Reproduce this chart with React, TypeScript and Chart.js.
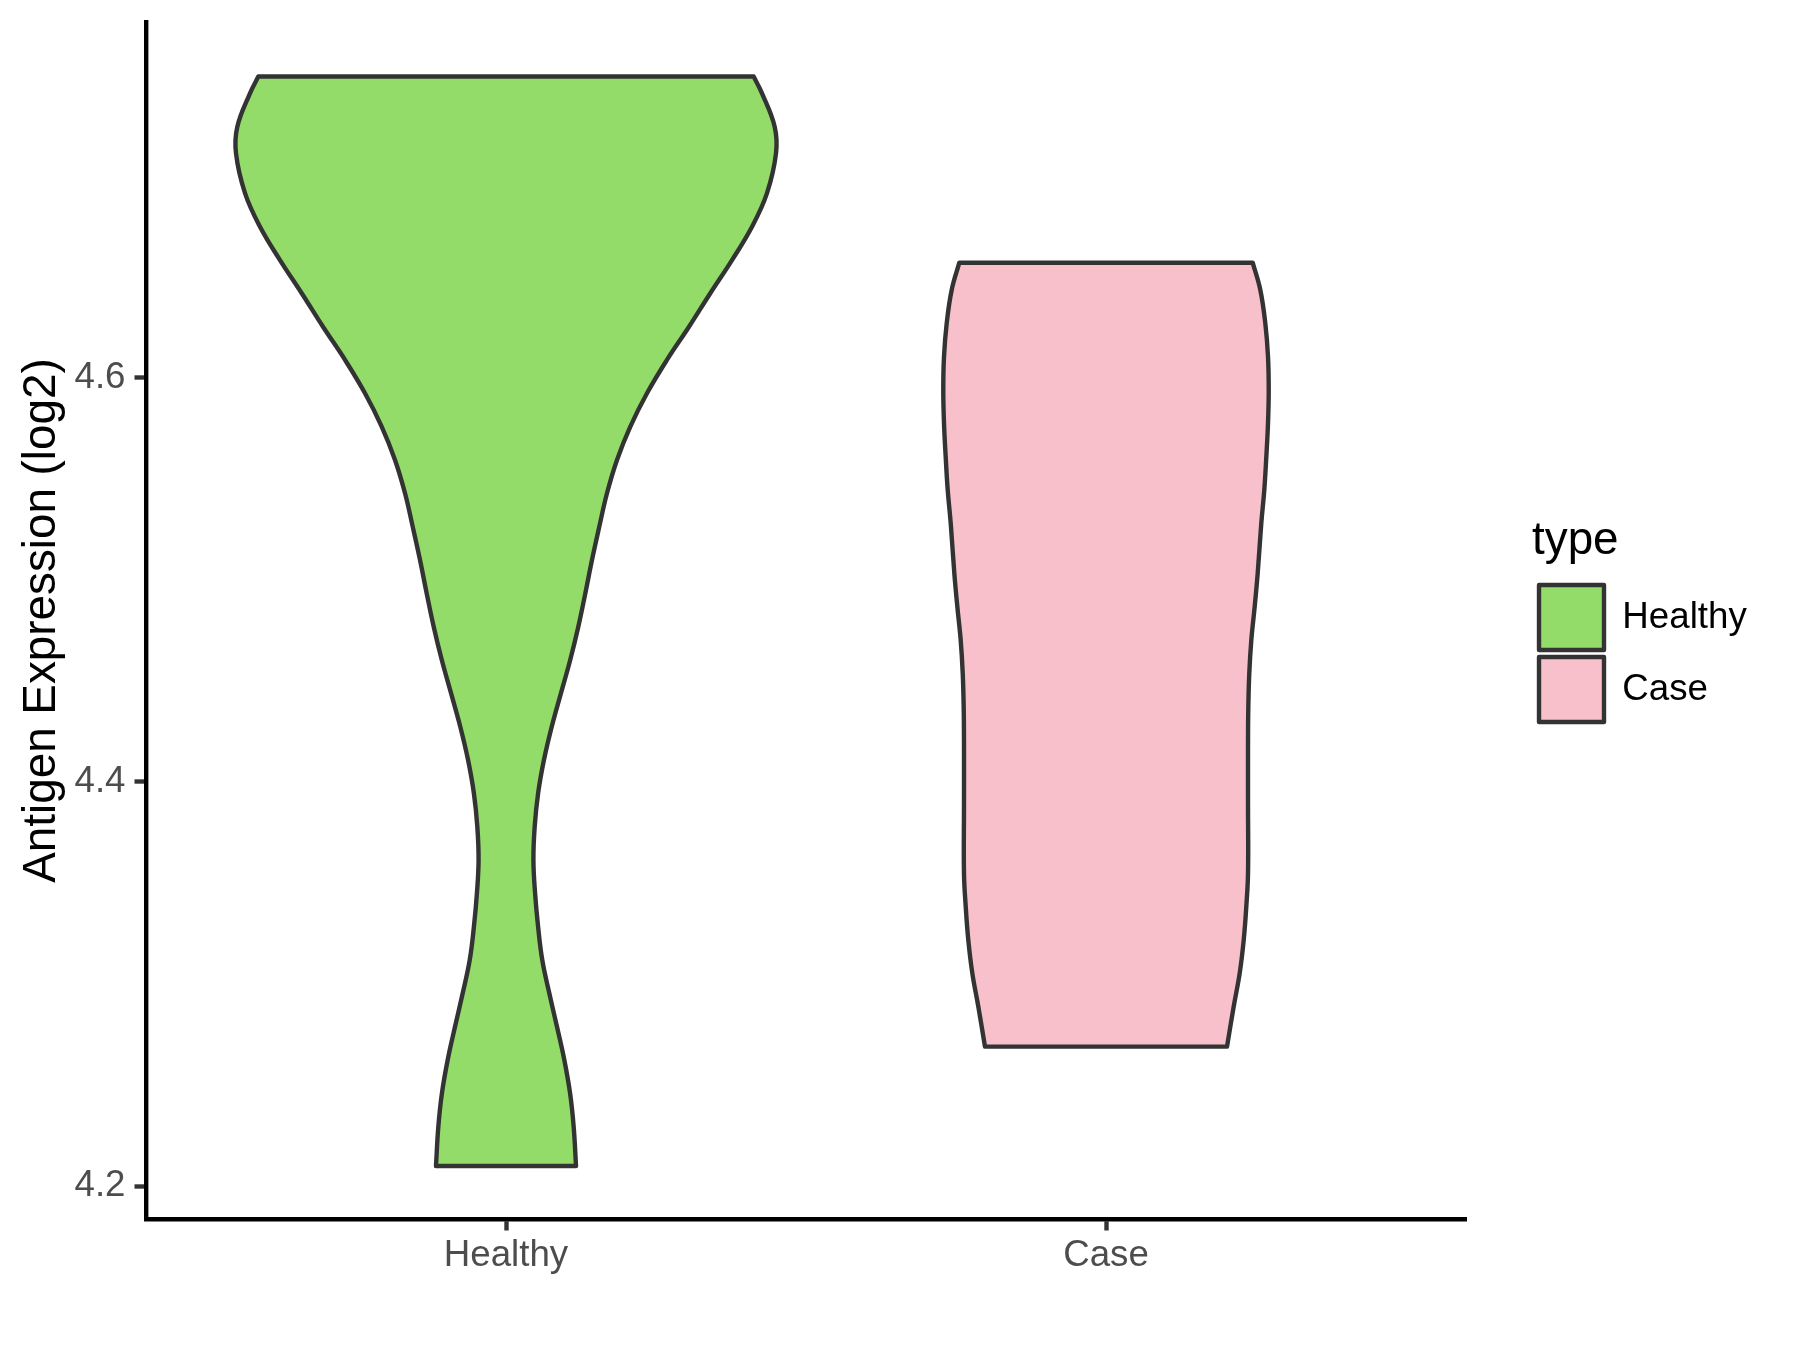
import React, { useEffect, useRef } from 'react';
import { Chart, registerables } from 'chart.js';

Chart.register(...registerables);

// Categories and their fill colours
const categories = ['Healthy', 'Case'];
const fillColors = ['#94DC6A', '#F7C0CB'];

// Violin outlines: expression value (log2) and
// half-width of the density (in category units), from top to bottom.
const healthyValues = [
  4.749, 4.7407, 4.7242, 4.711, 4.6913, 4.6747, 4.6582, 4.6418, 4.6252, 4.6088,
  4.5923, 4.5758, 4.5593, 4.5428, 4.5263, 4.5098, 4.4933, 4.4768, 4.4603, 4.4438,
  4.4273, 4.4108, 4.3943, 4.3778, 4.3613, 4.3448, 4.3283, 4.3118, 4.2954, 4.2788,
  4.2624, 4.2459, 4.2293, 4.2099,
];
const healthyHalfWidths = [
  0.4128, 0.4267, 0.4478, 0.45, 0.435, 0.41, 0.3767, 0.3405, 0.305, 0.2683,
  0.235, 0.2072, 0.185, 0.1683, 0.1555, 0.1433, 0.1322, 0.1205, 0.107, 0.0915,
  0.0762, 0.0632, 0.0535, 0.0478, 0.0457, 0.0485, 0.0535, 0.0605, 0.0722, 0.085,
  0.0972, 0.1068, 0.1128, 0.1167,
];
const caseValues = [
  4.6569, 4.6434, 4.6269, 4.6104, 4.5939, 4.5774, 4.5609, 4.5444, 4.5279, 4.5032,
  4.4867, 4.4702, 4.4537, 4.4372, 4.4207, 4.3877, 4.3547, 4.3382, 4.3217, 4.3053,
  4.2888, 4.269,
];
const caseHalfWidths = [
  0.2445, 0.2572, 0.2655, 0.27, 0.2712, 0.27, 0.2672, 0.2638, 0.2588, 0.2528,
  0.2478, 0.2422, 0.2388, 0.2372, 0.2367, 0.2367, 0.2367, 0.2338, 0.2295, 0.2228,
  0.2128, 0.2017,
];

// Axis ticks
const yTickValues = [4.2, 4.4, 4.6];
const yTickLabels = ['4.2', '4.4', '4.6'];
const yAxisTitle = 'Antigen Expression (log2)';
const legendTitle = 'type';

const valuesList = [healthyValues, caseValues];
const widthsList = [healthyHalfWidths, caseHalfWidths];

function violinPath(pos: number, values: number[], widths: number[]) {
  const n = values.length;
  const left = values.map((v, i) => ({ x: pos - widths[i], y: v }));
  const right = values.map((v, i) => ({ x: pos + widths[i], y: v })).reverse();
  const topCenter = { x: pos, y: values[0] };
  return [
    topCenter,
    left[0],
    ...left,
    left[n - 1],
    right[0],
    ...right,
    right[n - 1],
    topCenter,
  ];
}

export default function App() {
  const ref = useRef<HTMLCanvasElement>(null);

  useEffect(() => {
    if (!ref.current) return;
    Chart.defaults.font.family = "'Liberation Sans', Arial, sans-serif";

    const datasets = categories.map((name, i) => ({
      label: name,
      data: violinPath(i + 1, valuesList[i], widthsList[i]),
      backgroundColor: fillColors[i],
      borderColor: '#333333',
      borderWidth: 4.4,
      borderJoinStyle: 'round',
      fill: 'shape',
      tension: 0.4,
      pointRadius: 0,
      pointHoverRadius: 0,
    }));

    const tickFont = { size: 36.7 };

    const chart = new Chart(ref.current, {
      type: 'line',
      data: { datasets } as any,
      options: {
        animation: false,
        responsive: false,
        events: [],
        layout: { padding: { top: 22, right: 43.25, bottom: 0, left: 0 } },
        plugins: {
          legend: {
            position: 'right',
            align: 'center',
            fullSize: false,
            labels: {
              boxWidth: 65,
              boxHeight: 65,
              padding: 7,
              color: '#000000',
              font: tickFont,
            },
            title: {
              display: true,
              text: legendTitle,
              color: '#000000',
              font: { size: 45.8 },
              padding: { top: 6.6, bottom: 4.4 },
              position: 'start',
            } as any,
          },
          tooltip: { enabled: false },
        },
        scales: {
          x: {
            type: 'linear',
            min: 0.4,
            max: 2.6,
            afterBuildTicks: (s: any) => {
              s.ticks = categories.map((_, i) => ({ value: i + 1 }));
            },
            ticks: {
              callback: (v: any) => categories[Math.round(Number(v)) - 1] ?? '',
              color: '#4D4D4D',
              font: tickFont,
              padding: 3,
              maxRotation: 0,
              autoSkip: false,
            },
            grid: {
              display: true,
              drawOnChartArea: false,
              drawTicks: true,
              tickLength: 11.5,
              tickWidth: 4.4,
              tickColor: '#333333',
            },
            border: { display: true, color: '#000000', width: 4.4 },
            afterFit: (s: any) => {
              s.height = 131;
              s.paddingLeft = 0;
              s.paddingRight = 0;
            },
          },
          y: {
            type: 'linear',
            position: 'left',
            min: 4.1837,
            max: 4.776,
            afterBuildTicks: (s: any) => {
              s.ticks = yTickValues.map((v) => ({ value: v }));
            },
            ticks: {
              callback: (v: any) => {
                const idx = yTickValues.findIndex((t) => Math.abs(t - Number(v)) < 1e-9);
                return idx >= 0 ? yTickLabels[idx] : '';
              },
              color: '#4D4D4D',
              font: tickFont,
              padding: 9,
              autoSkip: false,
            },
            grid: {
              display: true,
              drawOnChartArea: false,
              drawTicks: true,
              tickLength: 11.5,
              tickWidth: 4.4,
              tickColor: '#333333',
            },
            border: { display: true, color: '#000000', width: 4.4 },
            title: {
              display: true,
              text: yAxisTitle,
              color: '#000000',
              font: { size: 45.8 },
              padding: { top: 14.5, bottom: 0 },
            },
            afterFit: (s: any) => {
              s.width = 146;
              s.paddingTop = 0;
              s.paddingBottom = 0;
            },
          },
          spacer: {
            type: 'linear',
            position: 'right',
            display: true,
            grid: { display: false },
            border: { display: false },
            ticks: { display: false },
            afterFit: (s: any) => {
              s.width = 66;
              s.paddingTop = 0;
              s.paddingBottom = 0;
            },
          },
        },
      } as any,
    });

    return () => chart.destroy();
  }, []);

  return (
    <div style={{ position: 'absolute', left: 0, top: 0, width: 1800, height: 1350, background: '#ffffff' }}>
      <canvas ref={ref} width={1800} height={1350} style={{ display: 'block' }} />
    </div>
  );
}
